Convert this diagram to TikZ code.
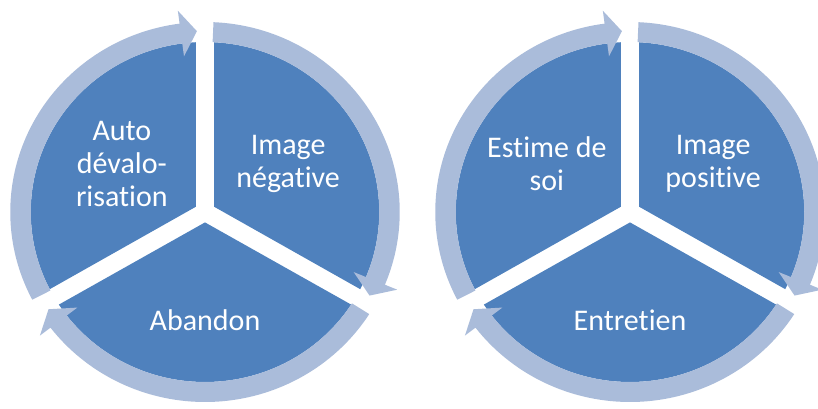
\documentclass[tikz,border=0pt]{standalone}
\usepackage{fontspec}
\newfontfamily\cyclefont[Ligatures=NoCommon]{Carlito}
\usepackage{xcolor}
\definecolor{pieblue}{RGB}{79,129,189}
\definecolor{ringblue}{RGB}{170,188,218}
\begin{document}
\begin{tikzpicture}[x=1pt,y=1pt,
                sector/.style={fill=pieblue},
                ringpart/.style={fill=ringblue},
                lbl/.style={text=white,align=center,font=\cyclefont\fontsize{30}{33}\selectfont}]
                \useasboundingbox (0,0) rectangle (818,408);
                \coordinate (cA) at (205,196);
                \coordinate (cB) at (630,196);
                \foreach \c in {cA,cB}{
                \begin{scope}[shift={(\c)},xscale=1.025]
                \foreach \g in {90,210,330}{
                % pie piece after the gap at \g
                \fill[sector] (\g+60:10.4) -- (\g+3:170)
                arc[start angle=\g+3,end angle=\g+117,radius=170] -- cycle;
                % ring piece with its arrow head just before the gap at \g
                \fill[ringpart] (\g+117.5:190)
                arc[start angle=\g+117.5,end angle=\g+7.5,radius=190]
                -- (\g+7.5:203) -- (\g+2.5:181) -- (\g+7.5:157) -- (\g+7.5:170)
                arc[start angle=\g+7.5,end angle=\g+117.5,radius=170] -- cycle;
                }
                \end{scope}
                }
                \path (cA) ++(150:96) node[lbl](auto){Auto\\dévalo-\\risation};
                \path (cA) ++(30:96) node[lbl](imneg){Image\\négative};
                \path (cA) ++(270:108) node[lbl](abandon){Abandon};
                \path (cB) ++(150:96) node[lbl](estime){Estime de\\soi};
                \path (cB) ++(30:96) node[lbl](impos){Image\\positive};
                \path (cB) ++(270:108) node[lbl](entretien){Entretien};
            \end{tikzpicture}
\end{document}
